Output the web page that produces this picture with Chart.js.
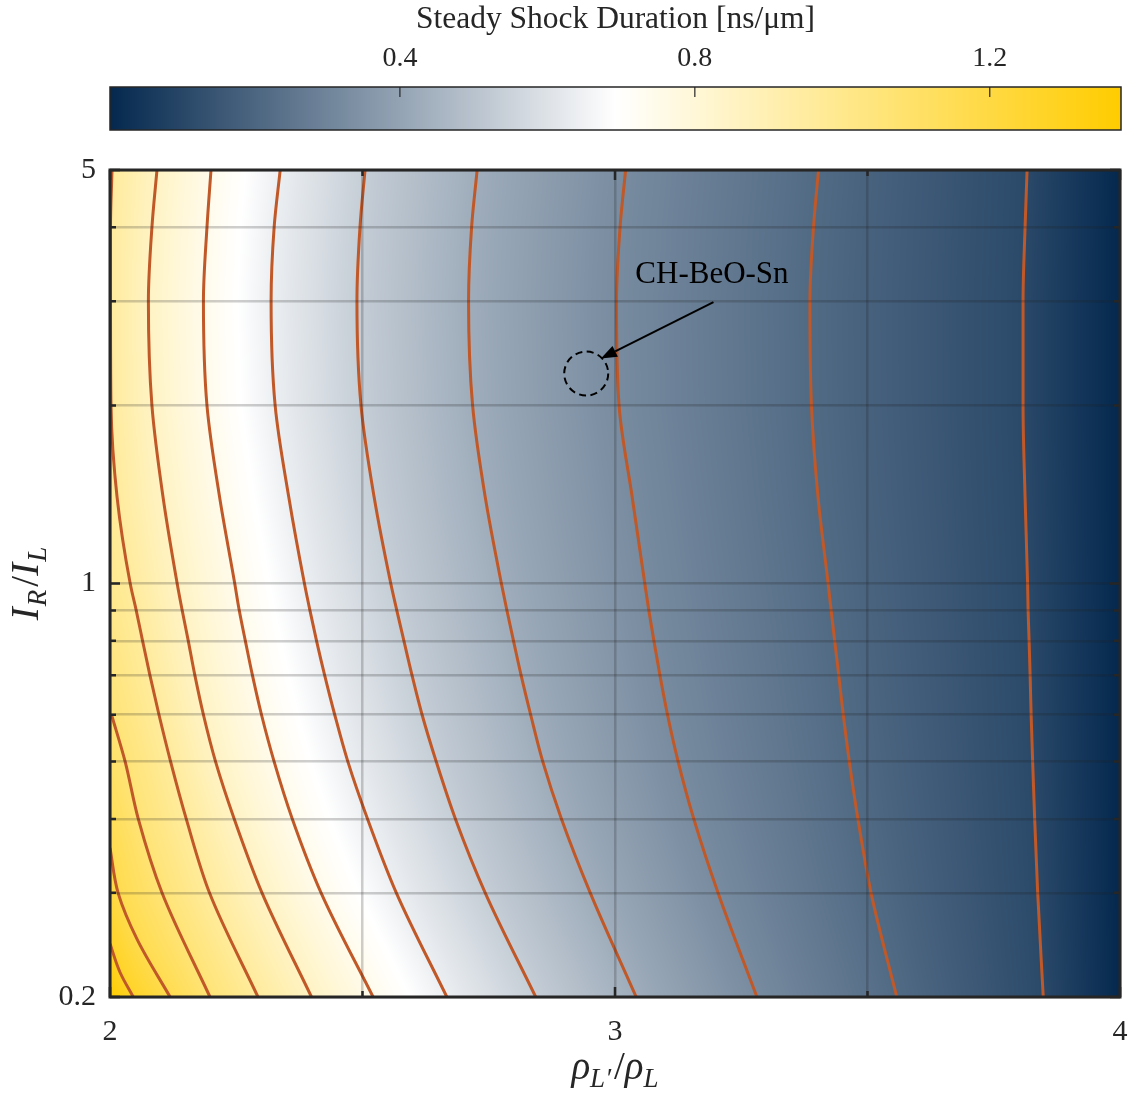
<!DOCTYPE html>
<html>
<head>
<meta charset="utf-8">
<script src="https://cdn.jsdelivr.net/npm/chart.js@4.4.1/dist/chart.umd.min.js"></script>
<style>
  html, body { margin: 0; padding: 0; background: #ffffff; }
  #wrap { position: relative; width: 1135px; height: 1093px; }
  canvas { position: absolute; left: 0; top: 0; }
</style>
</head>
<body>
<div id="wrap">
  <canvas id="main" width="1135" height="1093"></canvas>
  <canvas id="cbar" width="1135" height="132"></canvas>
</div>
<script>
// ---- Intensity-ratio rows (I_R/I_L) at which each contour's density ratio is listed ----
const rowY = [5, 4, 3, 2, 1.4, 1, 0.9, 0.8, 0.7, 0.6, 0.5, 0.4, 0.3, 0.2];

// ---- Contour levels of steady shock duration [ns/um] ----
const contourLevels = [0.112, 0.218, 0.323, 0.429, 0.534, 0.640, 0.745, 0.851, 0.956, 1.062, 1.167, 1.273];

// density ratio rho_L'/rho_L of each contour along rowY
const lvl0112 = [3.816, 3.812, 3.808, 3.808, 3.812, 3.817, 3.818, 3.820, 3.822, 3.824, 3.827, 3.831, 3.837, 3.848];
const lvl0218 = [3.403, 3.393, 3.386, 3.389, 3.402, 3.422, 3.428, 3.435, 3.443, 3.452, 3.464, 3.481, 3.507, 3.558];
const lvl0323 = [3.021, 3.010, 3.003, 3.008, 3.034, 3.059, 3.067, 3.077, 3.089, 3.104, 3.125, 3.156, 3.204, 3.281];
const lvl0429 = [2.727, 2.716, 2.710, 2.718, 2.743, 2.775, 2.786, 2.799, 2.814, 2.833, 2.857, 2.894, 2.951, 3.042];
const lvl0534 = [2.505, 2.495, 2.489, 2.497, 2.523, 2.556, 2.568, 2.582, 2.598, 2.618, 2.646, 2.684, 2.743, 2.843];
const lvl0640 = [2.337, 2.325, 2.319, 2.327, 2.354, 2.385, 2.396, 2.409, 2.425, 2.445, 2.471, 2.510, 2.567, 2.667];
const lvl0745 = [2.200, 2.192, 2.185, 2.192, 2.217, 2.247, 2.256, 2.268, 2.282, 2.300, 2.325, 2.361, 2.418, 2.521];
const lvl0851 = [2.093, 2.083, 2.076, 2.083, 2.105, 2.133, 2.143, 2.155, 2.168, 2.185, 2.209, 2.246, 2.301, 2.399];
const lvl0956 = [2.004, 2.001, 2.001, 2.002, 2.014, 2.040, 2.052, 2.0645, 2.079, 2.097, 2.120, 2.151, 2.197, 2.293];

// contours that start on the left boundary (own rows)
const lvl1062Y = [0.6, 0.5, 0.4, 0.3, 0.2];
const lvl1062X = [2.003, 2.030, 2.056, 2.103, 2.198];
const lvl1167Y = [0.357, 0.3, 0.25, 0.2];
const lvl1167X = [2.000, 2.016, 2.054, 2.119];
const lvl1273Y = [0.246, 0.22, 0.2];
const lvl1273X = [2.000, 2.020, 2.046];

// field values along the left (rho = 2) and right (rho = 4) boundaries
const leftEdgeY = [5, 4, 3, 2, 1.4, 1, 0.8, 0.6, 0.45, 0.357, 0.3, 0.246, 0.2];
const leftEdgeVal = [0.965, 0.960, 0.958, 0.960, 0.975, 0.995, 1.025, 1.065, 1.120, 1.170, 1.215, 1.275, 1.378];
const rightEdgeY = [5, 0.2];
const rightEdgeVal = [0.0068, 0.0068];

// ---- Axes ----
const xTicks = [2, 2.5, 3, 3.5, 4];
const xLabels = [2, 3, 4];
const yTicks = [0.2, 0.3, 0.4, 0.5, 0.6, 0.7, 0.8, 0.9, 1, 2, 3, 4, 5];
const yLabels = [0.2, 1, 5];

// ---- Colour scale ----
const cbMin = 0.0068, cbMax = 1.378;
const cbTicks = [0.4, 0.8, 1.2];
const cmapColors = [[4, 40, 78], [255, 255, 255], [255, 204, 0]];

// ---- Marked design point ----
const designName = 'CH-BeO-Sn';
const designX = 2.943, designY = 2.264;
const arrowTail = { x: 3.195, y: 2.99 };
const arrowHead = { x: 2.972, y: 2.40 };
const labelPos = { x: 3.192, y: 3.33 };

const FONT = "'Liberation Serif', 'Times New Roman', serif";
const INK = '#262626';
const CONTOUR = '#c05828';
const GRID = 'rgba(30,30,30,0.22)';

const contours = [
  { level: contourLevels[0], x: lvl0112, y: rowY },
  { level: contourLevels[1], x: lvl0218, y: rowY },
  { level: contourLevels[2], x: lvl0323, y: rowY },
  { level: contourLevels[3], x: lvl0429, y: rowY },
  { level: contourLevels[4], x: lvl0534, y: rowY },
  { level: contourLevels[5], x: lvl0640, y: rowY },
  { level: contourLevels[6], x: lvl0745, y: rowY },
  { level: contourLevels[7], x: lvl0851, y: rowY },
  { level: contourLevels[8], x: lvl0956, y: rowY },
  { level: contourLevels[9], x: lvl1062X, y: lvl1062Y },
  { level: contourLevels[10], x: lvl1167X, y: lvl1167Y },
  { level: contourLevels[11], x: lvl1273X, y: lvl1273Y }
];

// value along a column list (ys descending) at yq, linear in log(y)
function alongLog(ys, vals, yq, clamp) {
  const n = ys.length;
  if (yq >= ys[0]) return (clamp || yq - ys[0] < 1e-9) ? vals[0] : null;
  if (yq <= ys[n - 1]) return (clamp || ys[n - 1] - yq < 1e-9) ? vals[n - 1] : null;
  const ly = Math.log(yq);
  for (let i = 0; i < n - 1; i++) {
    if (yq <= ys[i] && yq >= ys[i + 1]) {
      const a = Math.log(ys[i]), b = Math.log(ys[i + 1]);
      const t = (a - ly) / (a - b);
      return vals[i] + t * (vals[i + 1] - vals[i]);
    }
  }
  return null;
}

function colorFor(v) {
  const mid = (cbMin + cbMax) / 2;
  let c0, c1, s;
  if (v <= mid) { c0 = cmapColors[0]; c1 = cmapColors[1]; s = (v - cbMin) / (mid - cbMin); }
  else { c0 = cmapColors[1]; c1 = cmapColors[2]; s = (v - mid) / (cbMax - mid); }
  s = Math.max(0, Math.min(1, s));
  return [c0[0] + (c1[0] - c0[0]) * s, c0[1] + (c1[1] - c0[1]) * s, c0[2] + (c1[2] - c0[2]) * s];
}

function knotsAt(yq) {
  const k = [[2, alongLog(leftEdgeY, leftEdgeVal, yq, true)]];
  contours.forEach(c => {
    const xc = alongLog(c.y, c.x, yq, false);
    if (xc !== null) k.push([xc, c.level]);
  });
  k.push([4, alongLog(rightEdgeY, rightEdgeVal, yq, true)]);
  k.sort((a, b) => a[0] - b[0]);
  return k;
}

// shaded field under the contour lines
const fieldPlugin = {
  id: 'field',
  beforeDatasetsDraw(chart) {
    const { ctx, chartArea: a, scales: { x, y } } = chart;
    const w = Math.round(a.right - a.left), h = Math.round(a.bottom - a.top);
    const off = document.createElement('canvas');
    off.width = w; off.height = h;
    const octx = off.getContext('2d');
    const img = octx.createImageData(w, h);
    for (let j = 0; j < h; j++) {
      const yv = y.getValueForPixel(a.top + j + 0.5);
      const k = knotsAt(yv);
      let s = 0;
      for (let i = 0; i < w; i++) {
        const xv = x.getValueForPixel(a.left + i + 0.5);
        while (s < k.length - 2 && xv > k[s + 1][0]) s++;
        const [x0, v0] = k[s], [x1, v1] = k[s + 1];
        let v = v1;
        if (x1 > x0) v = v0 + (v1 - v0) * Math.max(0, Math.min(1, (xv - x0) / (x1 - x0)));
        const c = colorFor(v);
        const p = (j * w + i) * 4;
        img.data[p] = c[0]; img.data[p + 1] = c[1]; img.data[p + 2] = c[2]; img.data[p + 3] = 255;
      }
    }
    octx.putImageData(img, 0, 0);
    ctx.drawImage(off, a.left, a.top);
  }
};

function drawMath(ctx, parts, cx, base, rot) {
  ctx.save();
  ctx.translate(cx, base);
  if (rot) ctx.rotate(-Math.PI / 2);
  ctx.fillStyle = INK;
  ctx.textBaseline = 'alphabetic';
  ctx.textAlign = 'left';
  let total = 0;
  parts.forEach(p => { ctx.font = p.f; total += ctx.measureText(p.t).width + (p.gap || 0); });
  let pos = -total / 2;
  parts.forEach(p => {
    ctx.font = p.f;
    ctx.fillText(p.t, pos, p.dy);
    pos += ctx.measureText(p.t).width + (p.gap || 0);
  });
  ctx.restore();
}

// frame, inward ticks, annotation and axis titles
const framePlugin = {
  id: 'frame',
  afterDraw(chart) {
    const { ctx, chartArea: a, scales: { x, y } } = chart;
    ctx.save();
    ctx.strokeStyle = INK;
    ctx.lineWidth = 2.5;
    ctx.beginPath();
    yTicks.forEach(v => {
      const py = y.getPixelForValue(v);
      const len = yLabels.includes(v) ? 10 : 6;
      ctx.moveTo(a.left, py); ctx.lineTo(a.left + len, py);
      ctx.moveTo(a.right, py); ctx.lineTo(a.right - len, py);
    });
    xTicks.forEach(v => {
      const px = x.getPixelForValue(v);
      const len = xLabels.includes(v) ? 10 : 6;
      ctx.moveTo(px, a.bottom); ctx.lineTo(px, a.bottom - len);
      ctx.moveTo(px, a.top); ctx.lineTo(px, a.top + len);
    });
    ctx.stroke();
    ctx.lineWidth = 3;
    ctx.strokeRect(a.left, a.top, a.right - a.left, a.bottom - a.top);

    // design point marker
    const cx = x.getPixelForValue(designX), cy = y.getPixelForValue(designY);
    ctx.strokeStyle = '#000000';
    ctx.lineWidth = 2;
    ctx.setLineDash([7, 4.5]);
    ctx.beginPath();
    ctx.arc(cx, cy, 22, 0, Math.PI * 2);
    ctx.stroke();
    ctx.setLineDash([]);

    const tx = x.getPixelForValue(arrowTail.x), ty = y.getPixelForValue(arrowTail.y);
    const hx = x.getPixelForValue(arrowHead.x), hy = y.getPixelForValue(arrowHead.y);
    const ang = Math.atan2(hy - ty, hx - tx);
    const hl = 16, hw = 6;
    const bx = hx - hl * Math.cos(ang), by = hy - hl * Math.sin(ang);
    ctx.beginPath();
    ctx.moveTo(tx, ty); ctx.lineTo(bx, by);
    ctx.stroke();
    ctx.fillStyle = '#000000';
    ctx.beginPath();
    ctx.moveTo(hx, hy);
    ctx.lineTo(bx + hw * Math.sin(ang), by - hw * Math.cos(ang));
    ctx.lineTo(bx - hw * Math.sin(ang), by + hw * Math.cos(ang));
    ctx.closePath();
    ctx.fill();

    ctx.font = '31px ' + FONT;
    ctx.textAlign = 'center';
    ctx.textBaseline = 'middle';
    ctx.fillText(designName, x.getPixelForValue(labelPos.x), y.getPixelForValue(labelPos.y));
    ctx.restore();

    const big = 'italic 39px ' + FONT, small = 'italic 27px ' + FONT, up = '39px ' + FONT;
    drawMath(ctx, [
      { t: 'I', f: big, dy: 0, gap: 1 }, { t: 'R', f: small, dy: 8, gap: 3 },
      { t: '/', f: up, dy: 0 }, { t: 'I', f: big, dy: 0, gap: 1 }, { t: 'L', f: small, dy: 8 }
    ], 38, (a.top + a.bottom) / 2, true);
    drawMath(ctx, [
      { t: 'ρ', f: big, dy: 0 }, { t: 'L′', f: small, dy: 8, gap: 3 },
      { t: '/', f: up, dy: 0 }, { t: 'ρ', f: big, dy: 0 }, { t: 'L', f: small, dy: 8 }
    ], (a.left + a.right) / 2, 1079, false);
  }
};

new Chart(document.getElementById('main'), {
  type: 'line',
  data: {
    datasets: contours.map(c => ({
      label: 'τ = ' + c.level,
      data: c.x.map((xv, i) => ({ x: xv, y: c.y[i] })),
      pointRadius: 0,
      borderColor: CONTOUR,
      borderWidth: 3,
      cubicInterpolationMode: 'monotone',
      fill: false
    }))
  },
  options: {
    indexAxis: 'y',
    responsive: false,
    devicePixelRatio: 1,
    animation: false,
    events: [],
    layout: { padding: { top: 170, right: 15, left: 0, bottom: 0 } },
    plugins: { legend: { display: false }, tooltip: { enabled: false } },
    scales: {
      x: {
        type: 'linear', position: 'bottom', min: 2, max: 4,
        afterBuildTicks(s) { s.ticks = xTicks.map(v => ({ value: v })); },
        afterFit(s) { s.height = 96; s.paddingLeft = 0; s.paddingRight = 0; },
        grid: { color: GRID, lineWidth: 2.5, drawTicks: false, z: 1 },
        border: { display: false },
        ticks: {
          autoSkip: false, maxRotation: 0, padding: 17, color: INK,
          font: { family: FONT, size: 30 },
          callback: v => (xLabels.includes(v) ? String(v) : '')
        }
      },
      y: {
        type: 'logarithmic', position: 'left', min: 0.2, max: 5,
        afterBuildTicks(s) { s.ticks = yTicks.map(v => ({ value: v })); },
        afterFit(s) { s.width = 110; s.paddingTop = 0; s.paddingBottom = 0; },
        grid: { color: GRID, lineWidth: 2.5, drawTicks: false, z: 1 },
        border: { display: false },
        ticks: {
          autoSkip: false, padding: 14, color: INK,
          font: { family: FONT, size: 30 },
          callback: v => (yLabels.includes(v) ? String(v) : '')
        }
      }
    }
  },
  plugins: [fieldPlugin, framePlugin]
});

// colour bar with its own axis
const colorbarPlugin = {
  id: 'colorbar',
  beforeDatasetsDraw(chart) {
    const { ctx, chartArea: a, scales: { x } } = chart;
    for (let px = Math.floor(a.left); px < Math.ceil(a.right); px++) {
      const c = colorFor(x.getValueForPixel(px + 0.5));
      ctx.fillStyle = 'rgb(' + c.map(Math.round).join(',') + ')';
      ctx.fillRect(px, a.top, 1, a.bottom - a.top);
    }
    ctx.save();
    ctx.strokeStyle = INK;
    ctx.lineWidth = 1.2;
    ctx.beginPath();
    cbTicks.forEach(v => {
      const px = x.getPixelForValue(v);
      ctx.moveTo(px, a.top); ctx.lineTo(px, a.top + 10);
    });
    ctx.stroke();
    ctx.lineWidth = 1.5;
    ctx.strokeRect(a.left, a.top, a.right - a.left, a.bottom - a.top);
    ctx.restore();
  }
};

new Chart(document.getElementById('cbar'), {
  type: 'scatter',
  data: { datasets: [] },
  options: {
    responsive: false,
    devicePixelRatio: 1,
    animation: false,
    events: [],
    layout: { padding: { left: 110, right: 14, top: 0, bottom: 2 } },
    plugins: { legend: { display: false }, tooltip: { enabled: false } },
    scales: {
      x: {
        type: 'linear', position: 'top', min: cbMin, max: cbMax,
        afterBuildTicks(s) { s.ticks = cbTicks.map(v => ({ value: v })); },
        afterFit(s) { s.height = 87; s.paddingLeft = 0; s.paddingRight = 0; },
        grid: { display: false },
        border: { display: false },
        ticks: {
          autoSkip: false, maxRotation: 0, padding: 4, color: INK,
          font: { family: FONT, size: 28 },
          callback: v => v.toFixed(1)
        },
        title: {
          display: true, text: 'Steady Shock Duration [ns/μm]', color: INK,
          font: { family: FONT, size: 31.5 }, padding: { top: 1, bottom: 0 }
        }
      },
      y: { display: false, min: 0, max: 1 }
    }
  },
  plugins: [colorbarPlugin]
});
</script>
</body>
</html>
